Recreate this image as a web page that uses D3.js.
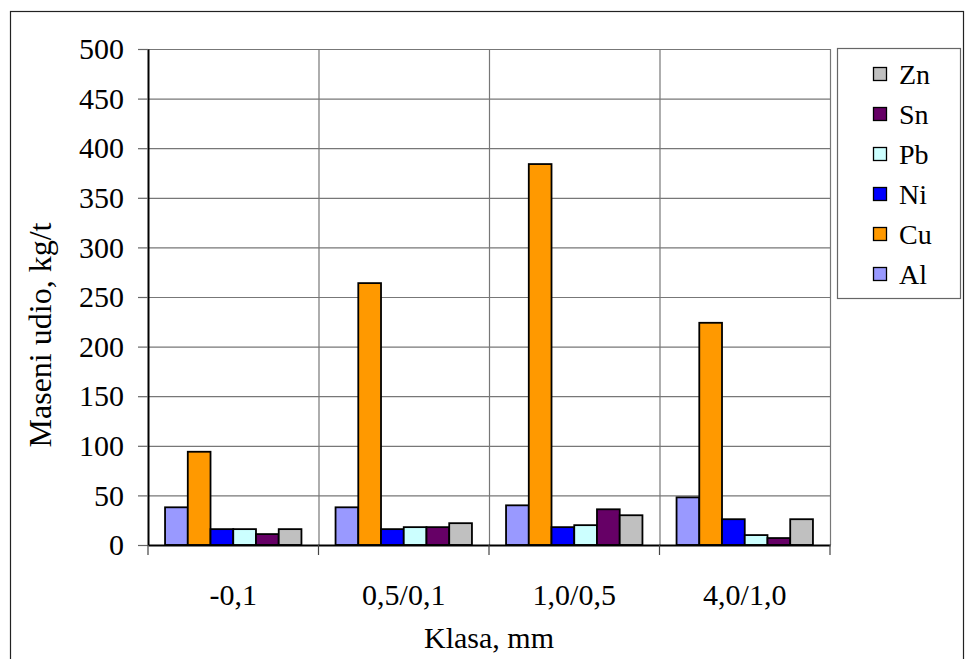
<!DOCTYPE html>
<html><head><meta charset="utf-8">
<script src="https://cdn.jsdelivr.net/npm/d3@7"></script>
<style>body{margin:0;background:#fff}svg{display:block}</style>
</head><body>
<svg id="c" width="965" height="659"></svg>
<script>
const categories = ["-0,1", "0,5/0,1", "1,0/0,5", "4,0/1,0"];
const seriesNames = ["Al", "Cu", "Ni", "Pb", "Sn", "Zn"];
const seriesColors = ["#9999FF", "#FF9900", "#0000FF", "#CCFFFF", "#660066", "#C0C0C0"];
const Al = [38, 38, 40, 48];
const Cu = [94, 264, 384, 224];
const Ni = [16, 16, 18, 26];
const Pb = [16, 18, 20, 10];
const Sn = [11, 18, 36, 7];
const Zn = [16, 22, 30, 26];
const yTicks = [0, 50, 100, 150, 200, 250, 300, 350, 400, 450, 500];
const seriesValues = [Al, Cu, Ni, Pb, Sn, Zn];

const FONT = "'Liberation Serif', 'Times New Roman', 'DejaVu Serif', serif";
const svg = d3.select("#c");
const L = 148, R = 830, T = 49, B = 545;

// outer frame
svg.append("rect").attr("x", 10.5).attr("y", 11.5).attr("width", 953).attr("height", 670)
  .attr("fill", "none").attr("stroke", "#222").attr("stroke-width", 1.2);

const x = d3.scaleBand().domain(categories).range([L, R]).paddingInner(0).paddingOuter(0);
const y = d3.scaleLinear().domain([0, 500]).range([B, T]);
const xs = d3.scaleBand().domain(seriesNames).range([0, x.bandwidth()]).paddingInner(0).paddingOuter(0.75);

// horizontal gridlines
svg.append("g").selectAll("line").data(yTicks.filter(d => d > 0)).join("line")
  .attr("x1", L).attr("x2", R).attr("y1", d => y(d) + 0.5).attr("y2", d => y(d) + 0.5)
  .attr("stroke", "#777").attr("stroke-width", 1.2);
// vertical gridlines
svg.append("g").selectAll("line").data(categories.slice(1).concat([null])).join("line")
  .attr("x1", d => d === null ? R + 0.5 : x(d) + 0.5).attr("x2", d => d === null ? R + 0.5 : x(d) + 0.5)
  .attr("y1", T).attr("y2", B).attr("stroke", "#777").attr("stroke-width", 1.2);

// bars
const groups = svg.append("g").selectAll("g").data(categories).join("g")
  .attr("transform", d => `translate(${x(d)},0)`);
groups.selectAll("rect").data((c, i) => seriesNames.map((s, j) => ({s, j, v: seriesValues[j][i]}))).join("rect")
  .attr("x", d => xs(d.s)).attr("width", xs.bandwidth())
  .attr("y", d => y(d.v)).attr("height", d => B - y(d.v))
  .attr("fill", d => seriesColors[d.j]).attr("stroke", "#000").attr("stroke-width", 1.8);

// y axis
const yAxis = d3.axisLeft(y).tickValues(yTicks).tickSize(10).tickSizeOuter(0).tickPadding(14);
const gy = svg.append("g").attr("transform", `translate(${L},0)`).call(yAxis);
gy.attr("font-family", null).attr("font-size", null);
gy.select(".domain").attr("stroke", "#000").attr("stroke-width", 2);
gy.selectAll(".tick line").attr("stroke", "#666").attr("stroke-width", 1.2);
gy.selectAll(".tick text").style("font-family", FONT).style("font-size", "30px").attr("fill", "#000");

// x axis
const xAxis = d3.axisBottom(x).tickSize(0).tickSizeOuter(0).tickPadding(0);
const gx = svg.append("g").attr("transform", `translate(0,${B})`).call(xAxis);
gx.attr("font-family", null).attr("font-size", null);
gx.select(".domain").attr("stroke", "#000").attr("stroke-width", 2);
gx.selectAll(".tick text").style("font-family", FONT).style("font-size", "30px").attr("fill", "#000")
  .attr("dy", null).attr("y", 60);
// x tick marks at band boundaries
svg.append("g").selectAll("line").data(categories.concat([null])).join("line")
  .attr("x1", d => d === null ? R : x(d)).attr("x2", d => d === null ? R : x(d))
  .attr("y1", B).attr("y2", B + 10).attr("stroke", "#444").attr("stroke-width", 1.2);

// axis titles
svg.append("text").attr("x", (L + R) / 2).attr("y", 648).attr("text-anchor", "middle")
  .style("font-family", FONT).style("font-size", "30px").text("Klasa, mm");
svg.append("text").attr("transform", "translate(51,335) rotate(-90)").attr("text-anchor", "middle")
  .style("font-family", FONT).style("font-size", "32px").text("Maseni udio, kg/t");

// legend
const lg = svg.append("g");
lg.append("rect").attr("x", 837.5).attr("y", 48.5).attr("width", 123).attr("height", 250)
  .attr("fill", "#fff").attr("stroke", "#666").attr("stroke-width", 1.2);
const legendOrder = seriesNames.map((s, j) => ({s, j})).reverse();
const ly = d3.scalePoint().domain(legendOrder.map(d => d.s)).range([74, 274]);
const items = lg.selectAll("g").data(legendOrder).join("g")
  .attr("transform", d => `translate(0,${ly(d.s)})`);
items.append("rect").attr("x", 873.5).attr("y", -6.5).attr("width", 13).attr("height", 13)
  .attr("fill", d => seriesColors[d.j]).attr("stroke", "#000").attr("stroke-width", 1.3);
items.append("text").attr("x", 899).attr("y", 10).style("font-family", FONT).style("font-size", "28px").text(d => d.s);
</script>
</body></html>
